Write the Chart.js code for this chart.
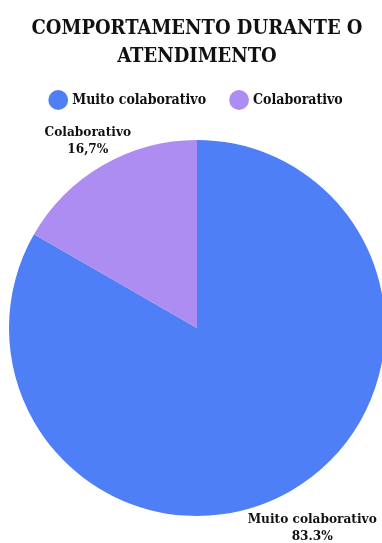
<!DOCTYPE html>
<html>
<head>
<meta charset="utf-8">
<script src="https://cdn.jsdelivr.net/npm/chart.js@4.4.0/dist/chart.umd.min.js"></script>
<style>
  html, body { margin: 0; padding: 0; background: #fff; overflow: hidden; }
  #wrap { width: 394px; height: 543px; }
</style>
</head>
<body>
<div id="wrap"><canvas id="pie"></canvas></div>
<script>
// chart data
const titleLines = ['COMPORTAMENTO DURANTE O', 'ATENDIMENTO'];
const categories = ['Muito colaborativo', 'Colaborativo'];
const shares = [83.3, 16.7];
const shareLabels = ['83.3%', '16,7%'];
const palette = ['#4f7ff6', '#ae8df2'];

const FONT = "'DejaVu Serif Condensed', 'Liberation Serif', serif";

// extra gap between legend and pie
const legendGap = {
  id: 'legendGap',
  beforeInit(chart) {
    const fit = chart.legend.fit;
    chart.legend.fit = function () { fit.bind(chart.legend)(); this.height += 23; };
  }
};

// outside labels: category name + share, placed along the slice's mid angle
const outsideLabels = {
  id: 'outsideLabels',
  afterDatasetsDraw(chart) {
    const ctx = chart.ctx;
    const meta = chart.getDatasetMeta(0);
    ctx.save();
    ctx.fillStyle = '#111';
    ctx.font = 'bold 13.5px ' + FONT;
    ctx.textAlign = 'center';
    ctx.textBaseline = 'middle';
    meta.data.forEach((arc, i) => {
      const mid = (arc.startAngle + arc.endAngle) / 2;
      const r = arc.outerRadius + 36;
      const x = arc.x + Math.cos(mid) * r + 3;
      const y = arc.y + Math.sin(mid) * r;
      ctx.fillText(categories[i], x, y - 2);
      ctx.fillText(shareLabels[i], x, y + 15);
    });
    ctx.restore();
  }
};

new Chart(document.getElementById('pie'), {
  type: 'pie',
  data: {
    labels: categories,
    datasets: [{ data: shares, backgroundColor: palette, borderWidth: 0 }]
  },
  options: {
    responsive: true, maintainAspectRatio: false, animation: false,
    layout: { padding: { top: 0, bottom: 27, left: 0, right: 0 } },
    plugins: {
      title: {
        display: true, text: titleLines, color: '#111',
        font: { family: FONT, size: 20, weight: 'bold', lineHeight: 1.4 },
        padding: { top: 15, bottom: -4 }
      },
      legend: {
        position: 'top',
        labels: {
          usePointStyle: true, pointStyle: 'circle', boxWidth: 14, boxHeight: 14,
          color: '#111', padding: 26,
          font: { family: FONT, size: 14, weight: 'bold' }
        }
      },
      tooltip: { enabled: false }
    }
  },
  plugins: [legendGap, outsideLabels]
});
</script>
</body>
</html>
